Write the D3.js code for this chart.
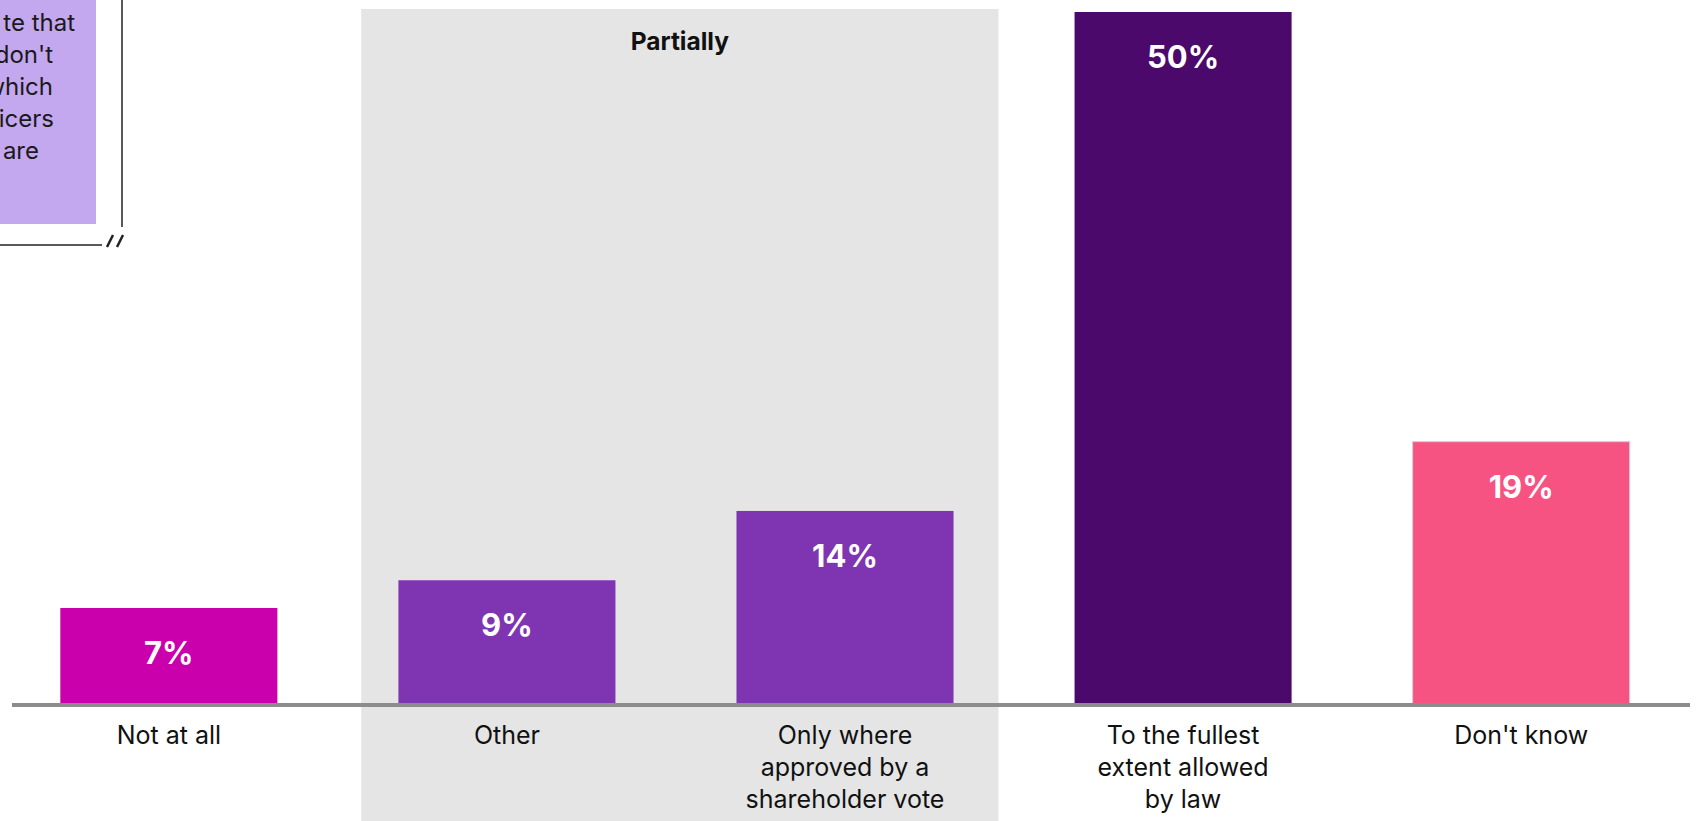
<!DOCTYPE html>
<html>
<head>
<meta charset="utf-8">
<script src="https://cdn.jsdelivr.net/npm/d3@7"></script>
<style>
	html, body { margin: 0; padding: 0; background: #fff; }
	svg { display: block; }
	text { font-family: Inter, "Noto Sans", sans-serif; }
</style>
</head>
<body>
<div id="chart"></div>
<script>
// chart data
const categories = ["Not at all", "Other", "Only where approved by a shareholder vote", "To the fullest extent allowed by law", "Don't know"]
const labelLines = [["Not at all"], ["Other"], ["Only where", "approved by a", "shareholder vote"], ["To the fullest", "extent allowed", "by law"], ["Don't know"]]
const values = [7, 9, 14, 50, 19]
const barColors = ["#c900ac", "#7f35b2", "#7f35b2", "#4a096b", "#f65383"]
const groupName = "Partially"
const groupMembers = ["Other", "Only where approved by a shareholder vote"]
// visible part of the note cut at the top left
const noteLines = ["te that", "don't", "which", "icers", "are"]

const width = 1698
const height = 821
const baseY = 705

const svg = d3.select("#chart")
	.append("svg")
	.attr("width", width)
	.attr("height", height)

const x = d3.scaleBand()
	.domain(categories)
	.range([13, 1677])
	.paddingInner(0.358)
	.paddingOuter(0.14)

const y = d3.scaleLinear().domain([0, 50]).range([baseY, 12])

// grey "Partially" panel
const gx0 = x(groupMembers[0]) - x.step() * 0.11
const gx1 = x(groupMembers[1]) + x.bandwidth() + x.step() * 0.133
svg.append("rect")
	.attr("x", gx0)
	.attr("y", 9)
	.attr("width", gx1 - gx0)
	.attr("height", height - 9)
	.attr("fill", "#e5e5e5")

svg.append("text")
	.attr("x", (gx0 + gx1) / 2)
	.attr("y", 50)
	.attr("text-anchor", "middle")
	.style("font-size", "24.5px")
	.style("font-weight", 700)
	.attr("fill", "#111")
	.text(groupName)

// bars
const bars = svg.append("g")
	.selectAll("g")
	.data(categories)
	.join("g")

bars.append("rect")
	.attr("x", (d) => x(d))
	.attr("y", (d, i) => y(values[i]))
	.attr("width", x.bandwidth())
	.attr("height", (d, i) => baseY - y(values[i]))
	.attr("fill", (d, i) => barColors[i])
	.attr("stroke", (d, i) => (i === 4 ? "#d0d0d0" : "none"))
	.attr("stroke-width", 1)

bars.append("text")
	.attr("x", (d) => x(d) + x.bandwidth() / 2)
	.attr("y", (d, i) => y(values[i]) + 56)
	.attr("text-anchor", "middle")
	.attr("fill", "#fff")
	.style("font-size", "31px")
	.style("font-weight", 700)
	.text((d, i) => `${values[i]}%`)

// baseline
svg.append("line")
	.attr("x1", 12)
	.attr("x2", 1690)
	.attr("y1", baseY)
	.attr("y2", baseY)
	.attr("stroke", "#8c8c8c")
	.attr("stroke-width", 4)

// category labels
bars.append("text")
	.attr("x", (d) => x(d) + x.bandwidth() / 2)
	.attr("y", 744)
	.attr("text-anchor", "middle")
	.attr("fill", "#111")
	.style("font-size", "25px")
	.selectAll("tspan")
	.data((d, i) => labelLines[i])
	.join("tspan")
	.attr("x", function () {
		return this.parentNode.getAttribute("x")
	})
	.attr("dy", (d, j) => (j === 0 ? 0 : 32))
	.text((d) => d)

// note remnant, top left
const note = svg.append("g")
note.append("rect")
	.attr("x", -20)
	.attr("y", -10)
	.attr("width", 116)
	.attr("height", 234)
	.attr("fill", "#c3a7ef")

const noteEnds = [75, 53, 53, 54, 39]
note.selectAll("text")
	.data(noteLines)
	.join("text")
	.attr("x", (d, i) => noteEnds[i])
	.attr("y", (d, i) => 31 + i * 32)
	.attr("text-anchor", "end")
	.attr("fill", "#1a1a1a")
	.style("font-size", "24px")
	.text((d) => d)

note.append("line")
	.attr("x1", 122).attr("x2", 122)
	.attr("y1", 0).attr("y2", 227)
	.attr("stroke", "#222").attr("stroke-width", 1.5)

note.append("line")
	.attr("x1", 0).attr("x2", 102)
	.attr("y1", 245).attr("y2", 245)
	.attr("stroke", "#222").attr("stroke-width", 1.5)

// break marks
note.selectAll(".brk")
	.data([0, 10])
	.join("line")
	.attr("class", "brk")
	.attr("x1", (d) => 107 + d).attr("x2", (d) => 113 + d)
	.attr("y1", 247).attr("y2", 235)
	.attr("stroke", "#222").attr("stroke-width", 2.5)
</script>
</body>
</html>
